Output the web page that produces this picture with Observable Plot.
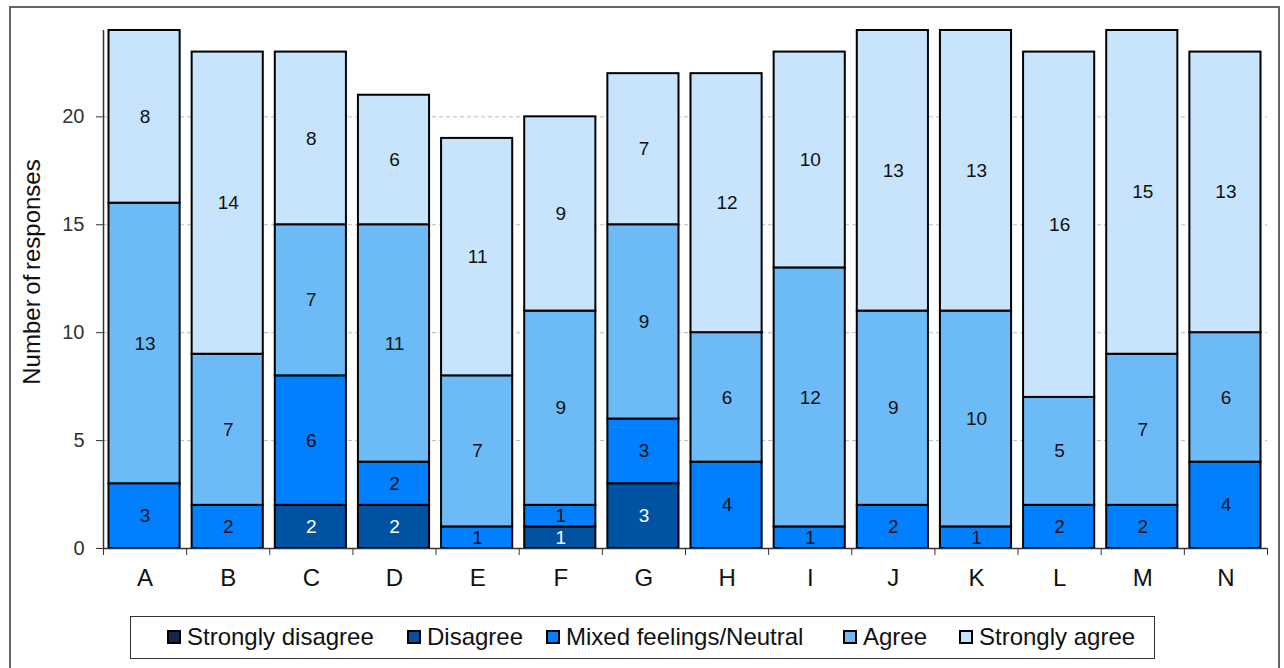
<!DOCTYPE html>
<html>
<head>
<meta charset="utf-8">
<script src="https://cdn.jsdelivr.net/npm/d3@7"></script>
<script src="https://cdn.jsdelivr.net/npm/@observablehq/plot@0.6"></script>
<style>
  html, body { margin: 0; padding: 0; background: #fff; overflow: hidden; }
  body { width: 1284px; height: 668px; position: relative; font-family: "Liberation Sans", Arial, sans-serif; }
  #frame { position: absolute; left: 9px; top: 6px; width: 1271px; height: 680px; border: 2px solid #666; box-sizing: border-box; }
  #chart { position: absolute; left: 0; top: 0; }
  #ytitle { position: absolute; left: 32px; top: 272px; transform: translate(-50%, -50%) rotate(-90deg); font-size: 24px; color: #111; white-space: nowrap; word-spacing: -2px; }
  #legend { position: absolute; left: 130px; top: 616px; width: 1025px; height: 43px; border: 1.5px solid #333; box-sizing: border-box; background: #fff; }
  .item { position: absolute; top: 0; height: 40px; display: flex; align-items: center; font-size: 24px; color: #111; white-space: nowrap; }
  .sw { width: 10px; height: 10px; border: 2px solid #000; margin-right: 6px; }
</style>
</head>
<body>
<div id="frame"></div>
<div id="chart"></div>
<div id="ytitle">Number of responses</div>
<div id="legend"></div>
<script>
const categories = ["A","B","C","D","E","F","G","H","I","J","K","L","M","N"];
const levels = ["Strongly disagree","Disagree","Mixed feelings/Neutral","Agree","Strongly agree"];
const colors = ["#10294a","#0052a3","#0080ff","#6cbbf7","#c7e4fc"];
const stronglyDisagree = [0,0,0,0,0,0,0,0,0,0,0,0,0,0];
const disagree         = [0,0,2,2,0,1,3,0,0,0,0,0,0,0];
const mixed            = [3,2,6,2,1,1,3,4,1,2,1,2,2,4];
const agree            = [13,7,7,11,7,9,9,6,12,9,10,5,7,6];
const stronglyAgree    = [8,14,8,6,11,9,7,12,10,13,13,16,15,13];
const yTicks = [0,5,10,15,20];

const series = [stronglyDisagree, disagree, mixed, agree, stronglyAgree];
const rows = [];
categories.forEach((c, i) => {
  let acc = 0;
  series.forEach((s, k) => {
    const v = s[i];
    if (v > 0) rows.push({i, cat: c, level: levels[k], value: v, y1: acc, y2: acc + v});
    acc += v;
  });
});

const plot = Plot.plot({
  width: 1284,
  height: 610,
  marginLeft: 103,
  marginRight: 17,
  marginTop: 30,
  marginBottom: 62,
  style: {fontFamily: "'Liberation Sans', Arial, sans-serif", background: "transparent", color: "#222"},
  x: {domain: [0, categories.length]},
  y: {domain: [0, 24]},
  color: {domain: levels, range: colors},
  marks: [
    Plot.ruleY(yTicks.filter(d => d > 0), {stroke: "#bdbdbd", strokeDasharray: "4,3", strokeWidth: 1}),
    Plot.rectY(rows, {x1: "i", x2: d => d.i + 1, y1: "y1", y2: "y2", fill: "level", stroke: "#000", strokeWidth: 2, insetLeft: 5.5, insetRight: 6.5}),
    Plot.text(rows, {x: d => d.i + 0.5, y: d => (d.y1 + d.y2) / 2, text: "value", fontSize: 19,
      fill: d => (d.level === "Disagree" || d.level === "Strongly disagree") ? "#fff" : "#111"}),
    Plot.ruleX([0], {stroke: "#333", strokeWidth: 1.5}),
    Plot.ruleY([0], {stroke: "#333", strokeWidth: 1.5}),
    Plot.axisY({ticks: yTicks, tickSize: 7, tickPadding: 12, fontSize: 20, stroke: "#333", fill: "#333", label: null}),
    Plot.axisX({ticks: d3.range(categories.length + 1), tickSize: 7, tickFormat: () => "", stroke: "#333", label: null}),
    Plot.axisX({ticks: d3.range(categories.length).map(i => i + 0.5), tickSize: 0, tickPadding: 20, fontSize: 24, fill: "#111",
      tickFormat: d => categories[Math.floor(d)], label: null})
  ]
});
document.getElementById("chart").appendChild(plot);

const legendLefts = [36, 276, 415, 712, 828];
const legend = document.getElementById("legend");
levels.forEach((l, k) => {
  const it = document.createElement("div");
  it.className = "item";
  it.style.left = legendLefts[k] + "px";
  const sw = document.createElement("div");
  sw.className = "sw";
  sw.style.background = colors[k];
  const tx = document.createElement("span");
  tx.textContent = l;
  it.appendChild(sw);
  it.appendChild(tx);
  legend.appendChild(it);
});
</script>
</body>
</html>
